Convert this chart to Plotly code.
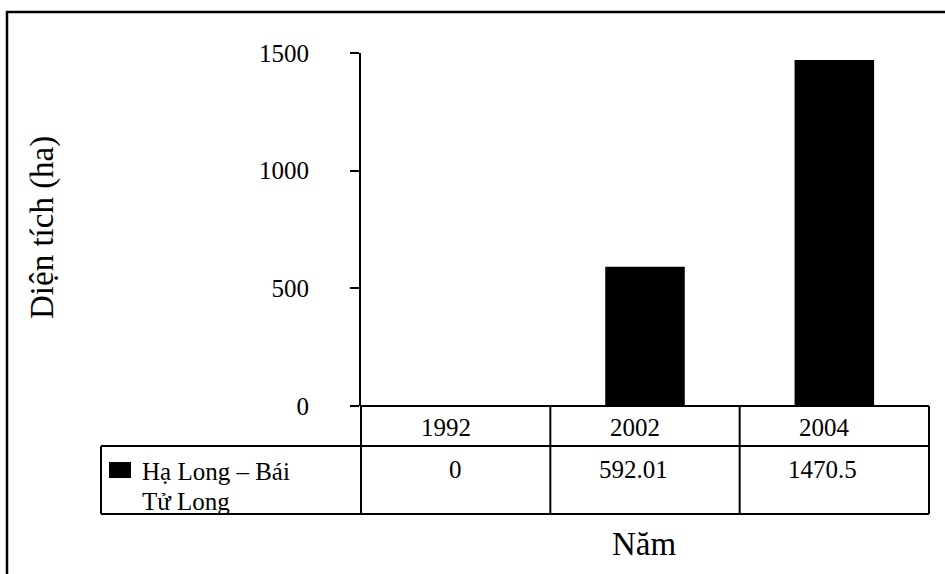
import plotly.graph_objects as go

years = ["1992", "2002", "2004"]
values = [0, 592.01, 1470.5]
series_name = "Hạ Long – Bái Tử Long"
y_title = "Diện tích (ha)"
x_title = "Năm"
y_ticks = [0, 500, 1000, 1500]

FONT = "Liberation Serif, Times New Roman, serif"
W, H = 945, 574
L, R, T, B = 361, 929, 53, 406  # plot area in px
pw, ph = R - L, B - T

def px(x):
    return (x - L) / pw

def py(y):
    return (B - y) / ph

fig = go.Figure()
fig.add_trace(go.Bar(x=list(range(len(years))), y=values,
                     marker=dict(color="black", line=dict(width=0)),
                     width=0.42, name=series_name, showlegend=False))

shapes = []
lw = 2
def line(x0, y0, x1, y1, w=lw):
    shapes.append(dict(type="line", xref="paper", yref="paper",
                       x0=px(x0), y0=py(y0), x1=px(x1), y1=py(y1),
                       line=dict(color="black", width=w)))

n = len(years)
col_edges = [L + pw * i / n for i in range(n + 1)]
row_head_bot = 446
row_data_bot = 514
key_left = 101
line(L, B, R, B)
line(key_left, row_head_bot, R, row_head_bot)
line(key_left, row_data_bot, R, row_data_bot)
for xe in col_edges:
    line(xe, B, xe, row_data_bot)
line(key_left, row_head_bot, key_left, row_data_bot)
# legend key
shapes.append(dict(type="rect", xref="paper", yref="paper",
                   x0=px(109), x1=px(131), y0=py(478), y1=py(462),
                   fillcolor="black", line=dict(width=0)))
# outer border
shapes.append(dict(type="rect", xref="paper", yref="paper",
                   x0=px(7), x1=px(952), y0=py(585), y1=py(12),
                   line=dict(color="black", width=2.5), fillcolor="rgba(0,0,0,0)"))

TF = dict(family=FONT, size=25, color="black")
ann = []
for i, (yr, v) in enumerate(zip(years, values)):
    ann.append(dict(x=i, xref="x", y=py(427), yref="paper", text=yr, showarrow=False,
                    xanchor="center", yanchor="middle", xshift=-10, font=TF))
    ann.append(dict(x=i, xref="x", y=py(469), yref="paper", text=f"{v:g}", showarrow=False,
                    xanchor="center", yanchor="middle", xshift=-12 if i else 0, font=TF))
words = series_name.split()
name_lines = [" ".join(words[:4]), " ".join(words[4:])]
for j, t in enumerate(name_lines):
    ann.append(dict(x=px(140), xref="paper", y=py(471 + 30 * j), yref="paper", text=t, showarrow=False,
                    xanchor="left", yanchor="middle", font=TF))
ann.append(dict(x=px(644), xref="paper", y=py(544), yref="paper", text=x_title, showarrow=False,
                xanchor="center", yanchor="middle", font=dict(family=FONT, size=33, color="black")))
ann.append(dict(x=px(42), xref="paper", y=py(228), yref="paper", text=y_title, showarrow=False,
                textangle=-90, xanchor="center", yanchor="middle", font=dict(family=FONT, size=33, color="black")))

fig.update_layout(
    width=W, height=H,
    margin=dict(l=L, r=W - R, t=T, b=H - B),
    paper_bgcolor="white", plot_bgcolor="white",
    xaxis=dict(range=[-0.5, n - 0.5], showticklabels=False, ticks="",
               showline=False, showgrid=False, zeroline=False),
    yaxis=dict(range=[0, 1500], tickvals=y_ticks, ticks="outside", ticklen=9, tickwidth=1.5,
               tickcolor="black", showline=True, linecolor="black", linewidth=2,
               showgrid=False, zeroline=False, ticklabelstandoff=36,
               tickfont=TF),
    shapes=shapes, annotations=ann,
)
fig.write_html("out.html", config={"displayModeBar": False},
               post_script="document.body.style.margin='0';")
